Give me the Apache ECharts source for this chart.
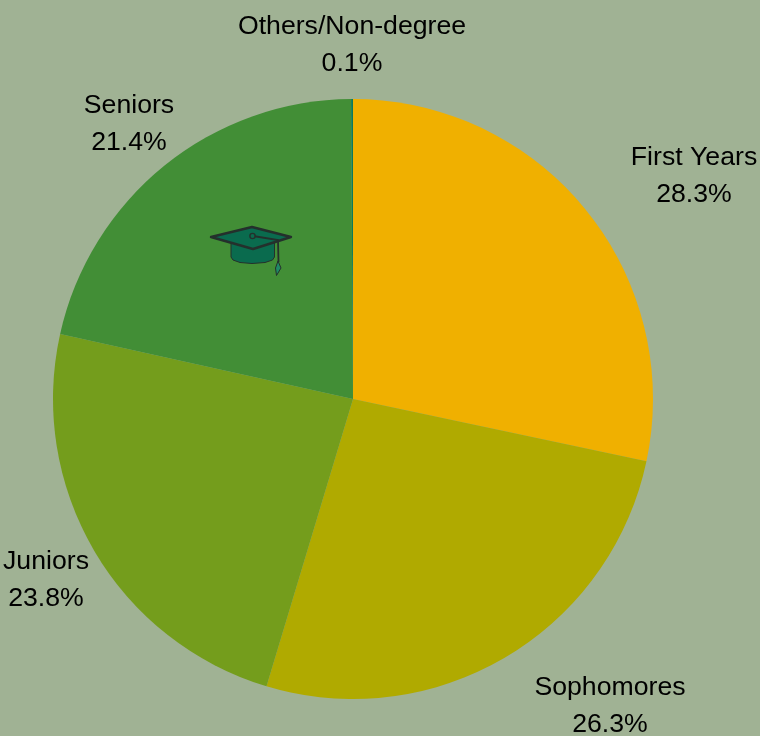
<!DOCTYPE html>
<html>
<head>
<meta charset="utf-8">
<style>html,body{margin:0;padding:0;background:#A0B294}#chart{width:760px;height:736px}</style>
<script src="https://cdn.jsdelivr.net/npm/echarts@6/dist/echarts.min.js"></script>
</head>
<body>
<div id="chart"></div>
<script>
// Enrollment share by class year
const categories = ['First Years', 'Sophomores', 'Juniors', 'Seniors', 'Others/Non-degree'];
const shares = [28.3, 26.3, 23.8, 21.4, 0.1];
const sliceColors = ['#F0B000', '#B0AA00', '#749D1C', '#428E36', '#0B7A5A'];
// Centre point of each two-line label
const labelAnchors = [[694, 176.5], [610, 706.5], [46, 580.5], [129, 124.5], [352, 45.5]];

const ink = '#24302C';
const capFill = '#0A6B4E';

const chart = echarts.init(document.getElementById('chart'), null, { renderer: 'canvas' });
chart.setOption({
  backgroundColor: '#A0B294',
  animation: false,
  series: [{
    type: 'pie',
    center: [353, 399],
    radius: [0, 300],
    startAngle: 90,
    clockwise: true,
    avoidLabelOverlap: false,
    percentPrecision: 1,
    data: categories.map((name, i) => ({
      name, value: shares[i],
      itemStyle: { color: sliceColors[i] }
    })),
    label: {
      show: true,
      position: 'outside',
      formatter: p => p.name + '\n' + p.value.toFixed(1) + '%',
      fontFamily: '"Liberation Sans", Arial, sans-serif',
      fontSize: 26.67,
      lineHeight: 37,
      color: '#000'
    },
    labelLine: { show: false },
    labelLayout: p => {
      const a = labelAnchors[p.dataIndex];
      return { x: a[0], y: a[1], align: 'center', verticalAlign: 'middle' };
    }
  }],
  graphic: [{
    type: 'group',
    silent: true,
    z: 10,
    children: [
      // mortarboard cap body
      { type: 'polygon', z: 10, shape: { points: [[231, 243], [231, 257], [233, 260], [240, 262.5], [252, 263.5], [265, 262.5], [272.5, 260], [274.5, 257], [274.5, 243]] },
        style: { fill: capFill, stroke: ink, lineWidth: 1 } },
      { type: 'polygon', z: 11, shape: { points: [[252, 227], [291, 237], [253, 249], [211, 237]] },
        style: { fill: capFill, stroke: ink, lineWidth: 2.4, lineJoin: 'round' } },
      // tassel cord and tip
      { type: 'polyline', z: 12, shape: { points: [[253, 236], [278, 240], [278.5, 262]] },
        style: { fill: null, stroke: ink, lineWidth: 1.8 } },
      { type: 'circle', z: 13, shape: { cx: 252.5, cy: 236, r: 2.6 },
        style: { fill: capFill, stroke: ink, lineWidth: 1.4 } },
      { type: 'polygon', z: 13, shape: { points: [[278, 261], [281, 268], [276.5, 275.5], [275.5, 268]] },
        style: { fill: '#1F8A66', stroke: ink, lineWidth: 1 } }
    ]
  }]
});
</script>
</body>
</html>
